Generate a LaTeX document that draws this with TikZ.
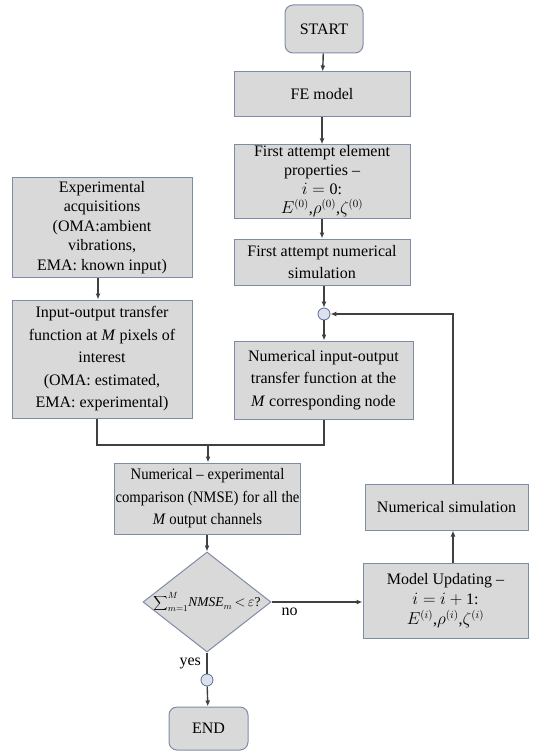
\documentclass[tikz,border=0pt]{standalone}
\usepackage{fontspec}
\setmainfont{Liberation Serif}
\newfontfamily\narrowserif[FakeStretch=0.92]{Liberation Serif}
\usetikzlibrary{arrows.meta,shapes.geometric}
\definecolor{boxfill}{HTML}{D9D9D9}
\definecolor{boxline}{HTML}{7F8CA8}
\definecolor{lnk}{HTML}{404040}
\definecolor{cfill}{HTML}{DCE2EC}
\definecolor{cline}{HTML}{5A6A9A}
\tikzset{
  box/.style={draw=boxline, fill=boxfill, line width=1pt, align=center, inner sep=1pt,
    font=\fontsize{16}{22.5}\selectfont},
  term/.style={box, rounded corners=8pt},
  junc/.style={circle, draw=cline, fill=cfill, line width=0.8pt, minimum size=12pt, inner sep=0pt},
  link/.style={draw=lnk, line width=1.4pt, -{Latex[length=6pt,width=5pt]}},
  plain/.style={draw=lnk, line width=1.4pt},
  lbl/.style={font=\fontsize{16}{18}\selectfont, text=black}
}
\begin{document}
\begin{tikzpicture}[x=1pt,y=-1pt]
\useasboundingbox (0,0) rectangle (533,751);
% right column
\node[term, minimum width=78pt, minimum height=48pt] (start) at (324,29) {START};
\node[box, minimum width=176pt, minimum height=45pt] (fe) at (322,94.5) {FE model};
\node[box, minimum width=176pt, minimum height=73pt, font=\fontsize{16}{19}\selectfont] (props) at (322,181.5)
  {First attempt element\\ properties –\\ $i=\hbox{0}$:\\ $E^{(0)}$,$\rho^{(0)}$,$\zeta^{(0)}$};
\node[box, minimum width=176pt, minimum height=46pt] (sim1) at (322,262)
  {First attempt numerical\\ simulation};
\node[junc] (c1) at (324,314) {};
\node[box, minimum width=179pt, minimum height=78pt] (num) at (323.5,380)
  {Numerical input-output\\ transfer function at the\\ \emph{M} corresponding node};
% left column
\node[box, minimum width=180pt, minimum height=99pt, font=\fontsize{16}{19.5}\selectfont] (exp) at (102,227.5)
  {Experimental\\ acquisitions\\ (OMA:ambient\\ vibrations,\\ EMA: known input)};
\node[box, minimum width=180pt, minimum height=118pt] (io) at (102,359)
  {Input-output transfer\\ function at \emph{M} pixels of\\ interest\\ (OMA: estimated,\\ EMA: experimental)};
% comparison and decision
\node[box, minimum width=183pt, minimum height=71pt, font=\narrowserif\fontsize{16}{22.5}\selectfont] (comp) at (207.5,498.5)
  {Numerical – experimental\\ comparison (NMSE) for all the\\ \emph{M} output channels};
\node[diamond, draw=boxline, fill=boxfill, line width=1pt, aspect=1.3, minimum width=128pt,
  minimum height=100pt, inner sep=-6pt, font=\fontsize{13.5}{15}\selectfont] (dec) at (207,602)
  {$\displaystyle\sum\nolimits_{m=1}^{M}\!\mathit{NMSE}_m\,{<}\,\varepsilon$?};
\node[junc] (c2) at (207,680) {};
\node[term, minimum width=79pt, minimum height=43pt] (end) at (208.5,728.5) {END};
% update loop
\node[box, minimum width=165pt, minimum height=75pt, font=\fontsize{16}{20}\selectfont] (upd) at (445.5,600.5)
  {Model Updating –\\ $i=i+\hbox{1}$:\\ $E^{(i)}$,$\rho^{(i)}$,$\zeta^{(i)}$};
\node[box, minimum width=163pt, minimum height=46pt] (nsim) at (446.5,507)
  {Numerical simulation};
% connectors
\draw[link] (start) -- (fe);
\draw[link] (fe) -- (props);
\draw[link] (props) -- (sim1);
\draw[link] (sim1.south -| c1) -- (c1);
\draw[link] (c1) -- (num.north -| c1);
\draw[link] (exp.south -| 98,0) -- (io.north -| 98,0);
\coordinate (mj) at (208,445);
\draw[plain] (io.south -| 97,0) |- (mj);
\draw[plain] (num.south -| 324,0) |- (mj);
\draw[link] (mj) -- (comp.north -| mj);
\draw[link] (comp.south -| dec) -- (dec.north);
\draw[link] (dec.east) -- node[lbl, below, pos=0.2, yshift=-2pt] {no} (upd.west |- dec.east);
\draw[plain] (dec.south) -- node[lbl, left, pos=0.5, xshift=-2pt] {yes} (c2);
\draw[link] (c2) -- (end);
\draw[link] (upd.north -| 453,0) -- (nsim.south -| 453,0);
\draw[link] (nsim.north -| 453,0) |- (c1.east);
\end{tikzpicture}
\end{document}
